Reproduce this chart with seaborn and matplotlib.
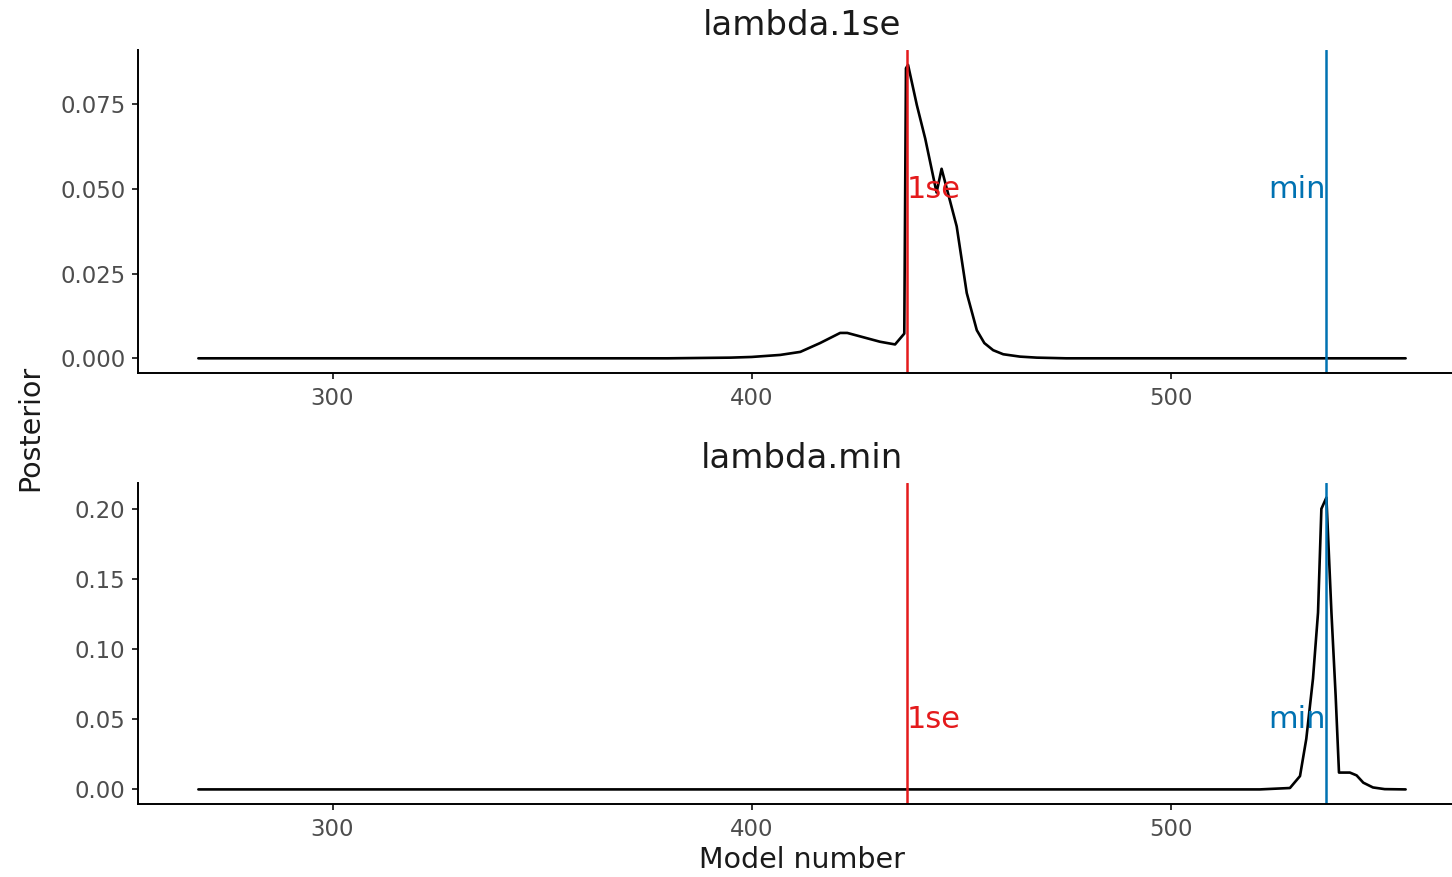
import pandas as pd
import seaborn as sns
import matplotlib.pyplot as plt

# posterior over model number
x_1se = [268, 380, 395, 400, 406.8, 411.6, 416.3, 421.1, 422.8, 430.6, 434.2, 436.4,
         436.8, 437.3, 439.4, 441.4, 444.1, 445.3, 448.9, 451.3, 453.7, 455.5, 457.6,
         460, 464, 468, 475, 556]
y_1se = [0, 0, 0.0002, 0.0004, 0.001, 0.0019, 0.0045, 0.0075, 0.0075, 0.0049, 0.0041, 0.0073,
         0.0857, 0.0867, 0.0748, 0.0649, 0.049, 0.056, 0.039, 0.0193, 0.0083, 0.0045, 0.0024,
         0.0012, 0.0005, 0.0002, 0, 0]

x_min = [268, 521.2, 528.4, 530.8, 532.3, 533.9, 535.1, 535.9, 537.1, 538.3, 539.3, 540.1,
         542.7, 544.3, 545.9, 548.2, 551, 556]
y_min = [0, 0, 0.001, 0.0095, 0.036, 0.079, 0.126, 0.20, 0.208, 0.126, 0.067, 0.012,
         0.012, 0.010, 0.0048, 0.0014, 0.0002, 0]

lambda_1se = 437
lambda_min = 537
titles = ['lambda.1se', 'lambda.min']
ticks_1se = [0.000, 0.025, 0.050, 0.075]
ticks_min = [0.00, 0.05, 0.10, 0.15, 0.20]

RED = '#E41A1C'
BLUE = '#0072B2'

sns.set_style('ticks')
plt.rcParams['font.family'] = ['DejaVu Sans']

fig = plt.figure(figsize=(14.52, 8.77), dpi=100)
W, H = 1452, 877
ax_top = fig.add_axes([138 / W, 1 - 373 / H, (1466 - 138) / W, 323 / H])
ax_bot = fig.add_axes([138 / W, 1 - 804 / H, (1466 - 138) / W, 321 / H])

panels = [
    (ax_top, x_1se, y_1se, ticks_1se, '{:.3f}', (-0.00434, 0.0911)),
    (ax_bot, x_min, y_min, ticks_min, '{:.2f}', (-0.0104, 0.2184)),
]

for (ax, xs, ys, ticks, fmt, ylim), title in zip(panels, titles):
    df = pd.DataFrame({'model': xs, 'posterior': ys})
    sns.lineplot(data=df, x='model', y='posterior', ax=ax, color='black', linewidth=1.9)
    ax.axvline(lambda_1se, color=RED, linewidth=1.8)
    ax.axvline(lambda_min, color=BLUE, linewidth=1.8)
    ax.text(lambda_1se, 0.05, '1se', color=RED, fontsize=22, ha='left', va='center')
    ax.text(lambda_min, 0.05, 'min', color=BLUE, fontsize=22, ha='right', va='center')
    ax.set_xlim(253.6, 570.4)
    ax.set_ylim(*ylim)
    ax.set_xticks([300, 400, 500])
    ax.set_yticks(ticks)
    ax.set_yticklabels([fmt.format(t) for t in ticks])
    ax.set_title(title, fontsize=24.5, pad=11, color='#1A1A1A')
    ax.set_xlabel('')
    ax.set_ylabel('')
    ax.tick_params(labelsize=16.4, labelcolor='#4D4D4D', length=4, width=1.4, color='#333333')
    ax.tick_params(axis='x', pad=6)
    ax.tick_params(axis='y', pad=5)
    for s in ['left', 'bottom']:
        ax.spines[s].set_linewidth(1.4)
        ax.spines[s].set_color('black')
    sns.despine(ax=ax)

ax_bot.set_xlabel('Model number', fontsize=20.5, labelpad=4, color='#1A1A1A')
fig.text(30 / W, 1 - 428 / H, 'Posterior', rotation=90, fontsize=20.5,
         ha='center', va='center', color='#1A1A1A')

fig.savefig('out.png', dpi=100)
